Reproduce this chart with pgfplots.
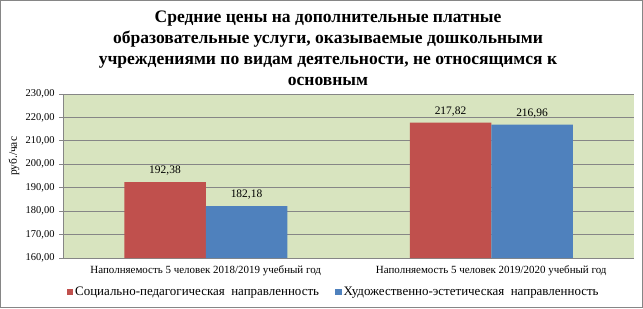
\documentclass[border=0pt]{standalone}
\usepackage{fontspec}
\setmainfont{Liberation Serif}
\usepackage{pgfplots}
\pgfplotsset{compat=1.18}
\definecolor{rd}{HTML}{C0504D}
\definecolor{bl}{HTML}{4F81BD}
\definecolor{bg}{HTML}{D8E4BF}
\definecolor{gr}{HTML}{868686}
\begin{document}
\begin{tikzpicture}[x=1bp,y=1bp]
\path[use as bounding box] (0,0) rectangle (643,308);
\draw[gr, line width=1.3bp] (0.65,0.65) rectangle (642.35,307.35);
\node[font=\bfseries\fontsize{17.6}{21}\selectfont, align=center] at (328,259.5)
 {Средние цены на дополнительные платные\\образовательные услуги, оказываемые дошкольными\\учреждениями по видам деятельности, не относящимся к\\основным};
\begin{axis}[
  at={(63bp,50bp)}, anchor=south west,
  scale only axis, width=571bp, height=164bp,
  ymin=160, ymax=230, ytick distance=10,
  xmin=-0.5, xmax=1.5, xtick={0,1},
  xticklabels={Наполняемость 5 человек 2018/2019 учебный год, Наполняемость 5 человек 2019/2020 учебный год},
  extra x ticks={0.5}, extra x tick labels={},
  extra x tick style={major tick length=4bp, tick style={gr}},
  major x tick style={draw=none},
  tick align=outside, major tick length=4bp,
  axis x line*=bottom, axis y line*=left,
  axis line style={gr, line width=0.8bp},
  y axis line style={-}, x axis line style={-},
  ytick style={gr, line width=0.8bp},
  ymajorgrids, grid style={gr, line width=0.8bp},
  axis background/.style={fill=bg},
  ybar=0pt, bar width=81.5bp,
  /pgf/number format/.cd, fixed, fixed zerofill, precision=2, use comma, 1000 sep={}, assume math mode=true,
  /pgfplots/.cd,
  yticklabel style={font=\fontsize{10.5}{12}\selectfont, xshift=-1bp},
  xticklabel style={font=\fontsize{11}{12}\selectfont, yshift=-0.5bp},
  ylabel={руб./час},
  ylabel style={font=\fontsize{11.5}{13}\selectfont, at={(axis description cs:-0.086,0.62)}, anchor=center},
  nodes near coords,
  every node near coord/.append style={font=\fontsize{11.5}{13}\selectfont, black, yshift=3bp},
  legend style={at={(0.474,-0.207)}, anchor=center, draw=none, fill=none,
    font=\fontsize{13}{14}\selectfont, legend columns=2,
    /tikz/every even column/.append style={column sep=14bp}},
  legend image code/.code={\fill[#1] (0bp,-3.2bp) rectangle (6.5bp,3.2bp);},
]
\addplot[fill=rd, draw=none] coordinates {(0,192.38) (1,217.82)};
\addplot[fill=bl, draw=none] coordinates {(0,182.18) (1,216.96)};
\legend{Социально-педагогическая\ \ направленность, Художественно-эстетическая\ \ направленность}
\end{axis}
\end{tikzpicture}
\end{document}
